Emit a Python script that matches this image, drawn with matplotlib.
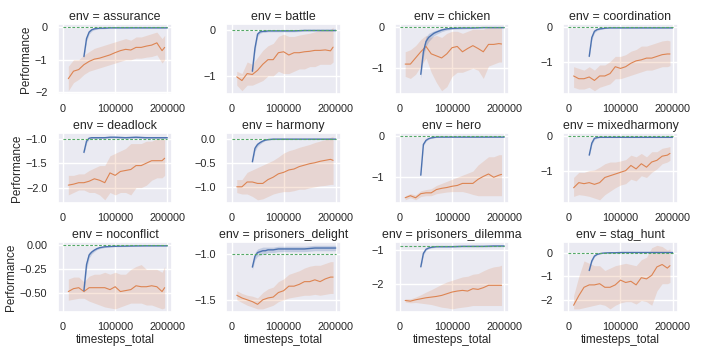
import matplotlib
matplotlib.use("Agg")
import matplotlib.pyplot as plt
import seaborn as sns

sns.set_theme(style="darkgrid")
plt.rcParams["font.family"] = ["Liberation Sans", "DejaVu Sans"]

envs = ["assurance", "battle", "chicken", "coordination",
        "deadlock", "harmony", "hero", "mixedharmony",
        "noconflict", "prisoners_delight", "prisoners_dilemma", "stag_hunt"]

# optimum (green dashed reference)
optimum = [0, 0, 0, 0, -1.0, 0, 0, 0, 0, -1.0, -0.88, 0]
opt_x = [0, 200000]

# blue: fast learner
blue_x = [40000, 45000, 50000, 55000, 60000, 65000, 70000, 80000, 90000,
          100000, 120000, 140000, 160000, 180000, 200000]
blue_mean = [
    [-0.9, -0.35, -0.15, -0.08, -0.05, -0.04, -0.03, -0.03, -0.02, -0.02, -0.02, -0.02, -0.02, -0.02, -0.02],
    [-0.9, -0.4, -0.1, -0.05, -0.04, -0.04, -0.03, -0.03, -0.03, -0.03, -0.03, -0.02, -0.02, -0.02, -0.02],
    [-1.15, -0.6, -0.35, -0.25, -0.2, -0.15, -0.12, -0.07, -0.04, -0.03, -0.02, -0.02, -0.01, -0.01, -0.01],
    [-0.85, -0.3, -0.12, -0.07, -0.05, -0.04, -0.03, -0.02, -0.02, -0.02, -0.02, -0.02, -0.02, -0.02, -0.02],
    [-1.28, -1.05, -0.99, -0.98, -0.98, -0.98, -0.98, -0.98, -0.97, -0.97, -0.98, -0.97, -0.98, -0.98, -0.98],
    [-0.48, -0.2, -0.12, -0.08, -0.05, -0.03, -0.02, -0.01, -0.01, -0.01, -0.01, -0.01, -0.01, -0.01, -0.01],
    [-0.95, -0.2, -0.1, -0.06, -0.04, -0.03, -0.02, -0.02, -0.02, -0.02, -0.02, -0.02, -0.02, -0.02, -0.02],
    [-0.55, -0.2, -0.06, -0.04, -0.03, -0.03, -0.03, -0.03, -0.03, -0.03, -0.03, -0.03, -0.03, -0.03, -0.03],
    [-0.47, -0.2, -0.1, -0.07, -0.05, -0.035, -0.025, -0.015, -0.012, -0.01, -0.008, -0.006, -0.005, -0.005, -0.005],
    [-1.14, -1.02, -0.98, -0.97, -0.96, -0.96, -0.95, -0.95, -0.94, -0.94, -0.94, -0.94, -0.93, -0.93, -0.93],
    [-1.5, -1.1, -0.98, -0.94, -0.92, -0.91, -0.9, -0.9, -0.9, -0.9, -0.89, -0.89, -0.89, -0.88, -0.88],
    [-0.75, -0.35, -0.15, -0.08, -0.05, -0.03, -0.02, -0.01, -0.01, 0.0, 0.0, 0.0, 0.0, 0.0, 0.0],
]
blue_sd = [
    [0.05, 0.08, 0.06, 0.04, 0.03, 0.02, 0.02, 0.015, 0.01, 0.01, 0.01, 0.01, 0.01, 0.01, 0.01],
    [0.05, 0.08, 0.05, 0.03, 0.02, 0.02, 0.02, 0.02, 0.02, 0.02, 0.02, 0.02, 0.02, 0.02, 0.02],
    [0.1, 0.12, 0.12, 0.1, 0.08, 0.06, 0.05, 0.04, 0.03, 0.02, 0.02, 0.01, 0.01, 0.01, 0.01],
    [0.04, 0.06, 0.04, 0.03, 0.02, 0.02, 0.01, 0.01, 0.01, 0.01, 0.01, 0.01, 0.01, 0.01, 0.01],
    [0.03, 0.04, 0.02, 0.02, 0.02, 0.02, 0.02, 0.02, 0.02, 0.02, 0.02, 0.02, 0.02, 0.02, 0.02],
    [0.04, 0.06, 0.04, 0.03, 0.02, 0.01, 0.01, 0.01, 0.01, 0.01, 0.01, 0.01, 0.01, 0.01, 0.01],
    [0.02, 0.03, 0.02, 0.01, 0.01, 0.01, 0.01, 0.01, 0.01, 0.01, 0.01, 0.01, 0.01, 0.01, 0.01],
    [0.03, 0.05, 0.03, 0.02, 0.01, 0.01, 0.01, 0.01, 0.01, 0.01, 0.01, 0.01, 0.01, 0.01, 0.01],
    [0.03, 0.05, 0.03, 0.02, 0.015, 0.01, 0.01, 0.008, 0.006, 0.005, 0.005, 0.005, 0.005, 0.005, 0.005],
    [0.03, 0.04, 0.04, 0.04, 0.04, 0.04, 0.03, 0.03, 0.03, 0.03, 0.03, 0.03, 0.03, 0.03, 0.03],
    [0.04, 0.05, 0.03, 0.02, 0.02, 0.02, 0.02, 0.02, 0.02, 0.02, 0.02, 0.02, 0.02, 0.02, 0.02],
    [0.04, 0.05, 0.03, 0.02, 0.01, 0.01, 0.01, 0.01, 0.01, 0.01, 0.01, 0.01, 0.01, 0.01, 0.01],
]

# orange: slow learner
orange_x = [10000, 20000, 30000, 40000, 50000, 60000, 70000, 80000, 90000, 100000,
            110000, 120000, 130000, 140000, 150000, 160000, 170000, 180000, 190000, 195000]
orange_mean = [
    [-1.58, -1.35, -1.3, -1.15, -1.05, -0.98, -0.95, -0.9, -0.85, -0.78, -0.72, -0.68, -0.7, -0.62, -0.62, -0.58, -0.55, -0.48, -0.72, -0.62],
    [-1.02, -1.1, -0.95, -0.97, -0.88, -0.75, -0.65, -0.65, -0.5, -0.48, -0.55, -0.5, -0.5, -0.48, -0.47, -0.45, -0.45, -0.44, -0.46, -0.38],
    [-0.9, -0.9, -0.75, -0.6, -0.47, -0.65, -0.7, -0.75, -0.65, -0.5, -0.47, -0.6, -0.52, -0.45, -0.52, -0.6, -0.42, -0.42, -0.4, -0.41],
    [-1.42, -1.5, -1.5, -1.45, -1.55, -1.42, -1.42, -1.35, -1.15, -1.2, -1.15, -1.05, -0.98, -0.95, -0.9, -0.9, -0.85, -0.8, -0.78, -0.78],
    [-1.95, -1.93, -1.9, -1.9, -1.87, -1.82, -1.85, -1.9, -1.7, -1.75, -1.67, -1.65, -1.63, -1.55, -1.55, -1.5, -1.45, -1.45, -1.45, -1.4],
    [-1.0, -1.0, -0.9, -0.9, -0.93, -0.93, -0.85, -0.8, -0.73, -0.7, -0.65, -0.63, -0.58, -0.55, -0.52, -0.5, -0.47, -0.45, -0.43, -0.45],
    [-1.5, -1.45, -1.5, -1.4, -1.38, -1.38, -1.3, -1.27, -1.25, -1.22, -1.2, -1.15, -1.15, -1.15, -1.05, -0.98, -0.92, -1.0, -0.95, -0.93],
    [-1.5, -1.35, -1.38, -1.35, -1.4, -1.35, -1.2, -1.15, -1.1, -1.05, -1.0, -0.85, -0.95, -0.8, -0.9, -0.75, -0.7, -0.58, -0.55, -0.5],
    [-0.48, -0.45, -0.44, -0.48, -0.44, -0.44, -0.44, -0.44, -0.46, -0.43, -0.48, -0.47, -0.46, -0.42, -0.43, -0.43, -0.42, -0.43, -0.48, -0.44],
    [-1.45, -1.48, -1.5, -1.52, -1.55, -1.5, -1.48, -1.47, -1.42, -1.4, -1.35, -1.35, -1.33, -1.3, -1.3, -1.28, -1.3, -1.27, -1.25, -1.25],
    [-2.5, -2.52, -2.48, -2.45, -2.42, -2.4, -2.38, -2.35, -2.3, -2.25, -2.22, -2.2, -2.22, -2.15, -2.17, -2.12, -2.05, -2.05, -2.05, -2.05],
    [-2.2, -1.8, -1.45, -1.35, -1.35, -1.3, -1.45, -1.45, -1.35, -1.15, -1.25, -1.2, -1.35, -1.05, -1.1, -0.95, -0.6, -0.5, -0.65, -0.55],
]
orange_lo = [
    [-1.95, -1.7, -1.6, -1.45, -1.35, -1.3, -1.25, -1.2, -1.15, -1.1, -1.05, -1.0, -1.0, -0.95, -0.95, -0.92, -0.9, -0.85, -1.1, -1.0],
    [-1.2, -1.32, -1.2, -1.2, -1.15, -1.1, -1.0, -1.0, -0.9, -0.95, -0.95, -0.9, -0.85, -0.85, -0.8, -0.8, -0.75, -0.75, -0.75, -0.7],
    [-1.2, -1.25, -1.15, -0.95, -0.75, -1.1, -1.35, -1.55, -1.45, -1.2, -1.1, -1.1, -1.05, -1.0, -1.05, -1.25, -0.95, -0.9, -0.85, -0.85],
    [-1.75, -1.8, -1.8, -1.75, -1.85, -1.75, -1.7, -1.65, -1.5, -1.5, -1.45, -1.4, -1.35, -1.3, -1.25, -1.25, -1.2, -1.15, -1.15, -1.12],
    [-2.15, -2.1, -2.05, -2.05, -2.1, -2.1, -2.15, -2.25, -2.1, -2.15, -2.1, -2.1, -2.15, -2.0, -2.0, -1.95, -1.85, -1.8, -1.8, -1.75],
    [-1.12, -1.15, -1.15, -1.2, -1.27, -1.25, -1.2, -1.15, -1.12, -1.1, -1.1, -1.08, -1.05, -1.05, -1.02, -1.0, -0.98, -0.97, -0.95, -0.95],
    [-1.55, -1.5, -1.55, -1.47, -1.45, -1.45, -1.4, -1.38, -1.36, -1.35, -1.35, -1.35, -1.38, -1.42, -1.45, -1.45, -1.45, -1.45, -1.45, -1.45],
    [-1.75, -1.7, -1.72, -1.75, -1.8, -1.85, -1.7, -1.6, -1.5, -1.42, -1.38, -1.25, -1.3, -1.15, -1.2, -1.05, -0.95, -0.8, -0.75, -0.7],
    [-0.57, -0.56, -0.55, -0.55, -0.58, -0.6, -0.62, -0.64, -0.65, -0.66, -0.64, -0.62, -0.6, -0.6, -0.6, -0.62, -0.62, -0.64, -0.66, -0.65],
    [-1.5, -1.53, -1.56, -1.58, -1.6, -1.6, -1.58, -1.56, -1.52, -1.5, -1.48, -1.47, -1.46, -1.45, -1.45, -1.44, -1.45, -1.44, -1.43, -1.43],
    [-2.55, -2.57, -2.56, -2.58, -2.6, -2.62, -2.66, -2.7, -2.72, -2.75, -2.72, -2.7, -2.68, -2.65, -2.65, -2.65, -2.65, -2.65, -2.65, -2.65],
    [-2.35, -2.35, -2.3, -2.25, -2.2, -2.15, -2.2, -2.35, -2.2, -2.1, -2.05, -2.05, -2.15, -2.0, -2.05, -2.2, -1.6, -1.3, -1.3, -1.25],
]
orange_hi = [
    [-1.2, -1.0, -1.0, -0.85, -0.75, -0.65, -0.6, -0.55, -0.5, -0.45, -0.4, -0.35, -0.4, -0.3, -0.3, -0.25, -0.2, -0.15, -0.35, -0.25],
    [-0.9, -0.95, -0.7, -0.75, -0.6, -0.45, -0.35, -0.3, -0.15, -0.1, -0.15, -0.15, -0.12, -0.1, -0.08, -0.05, -0.02, 0.0, 0.0, 0.05],
    [-0.6, -0.55, -0.45, -0.3, -0.2, -0.25, -0.2, -0.25, -0.15, -0.1, -0.1, -0.15, -0.1, -0.05, -0.05, -0.05, 0.0, 0.0, 0.0, 0.0],
    [-1.15, -1.2, -1.25, -1.15, -1.25, -1.1, -1.1, -1.0, -0.85, -0.85, -0.8, -0.7, -0.65, -0.55, -0.55, -0.5, -0.45, -0.4, -0.38, -0.4],
    [-1.75, -1.75, -1.72, -1.72, -1.65, -1.6, -1.55, -1.55, -1.35, -1.3, -1.25, -1.2, -1.1, -1.1, -1.1, -1.05, -1.05, -1.0, -1.0, -1.0],
    [-0.85, -0.85, -0.7, -0.65, -0.6, -0.55, -0.5, -0.45, -0.38, -0.3, -0.25, -0.22, -0.18, -0.15, -0.12, -0.08, -0.05, -0.02, 0.03, 0.05],
    [-1.45, -1.4, -1.43, -1.33, -1.3, -1.28, -1.2, -1.15, -1.1, -1.05, -1.0, -0.95, -0.9, -0.85, -0.7, -0.6, -0.5, -0.5, -0.45, -0.45],
    [-1.2, -1.05, -1.05, -1.0, -0.98, -0.9, -0.8, -0.75, -0.75, -0.72, -0.68, -0.55, -0.6, -0.5, -0.6, -0.45, -0.45, -0.35, -0.32, -0.3],
    [-0.35, -0.33, -0.33, -0.38, -0.32, -0.3, -0.3, -0.28, -0.3, -0.28, -0.3, -0.3, -0.25, -0.22, -0.2, -0.25, -0.25, -0.25, -0.28, -0.22],
    [-1.4, -1.43, -1.45, -1.46, -1.48, -1.42, -1.38, -1.36, -1.3, -1.27, -1.22, -1.2, -1.18, -1.15, -1.13, -1.12, -1.12, -1.1, -1.08, -1.08],
    [-2.45, -2.45, -2.4, -2.33, -2.25, -2.18, -2.1, -2.02, -1.95, -1.9, -1.85, -1.8, -1.78, -1.72, -1.7, -1.62, -1.55, -1.5, -1.48, -1.45],
    [-1.8, -1.0, -0.35, -0.45, -0.55, -0.55, -0.75, -0.65, -0.55, -0.5, -0.45, -0.5, -0.55, -0.3, -0.2, 0.2, 0.3, 0.25, 0.1, 0.15],
]

pal = sns.color_palette("deep")
c_blue, c_orange, c_green = pal[0], pal[1], pal[2]

fig, axes = plt.subplots(3, 4, figsize=(7.06, 3.53), dpi=100)
plt.subplots_adjust(left=0.082, right=0.960, bottom=0.116, top=0.932,
                    wspace=0.47, hspace=0.56)

for i, ax in enumerate(axes.flat):
    # orange curve + band
    ax.fill_between(orange_x, orange_lo[i], orange_hi[i], color=c_orange,
                    alpha=0.2, linewidth=0)
    ax.plot(orange_x, orange_mean[i], color=c_orange, lw=0.8)
    # blue curve + band
    lo = [m - s for m, s in zip(blue_mean[i], blue_sd[i])]
    hi = [m + s for m, s in zip(blue_mean[i], blue_sd[i])]
    ax.fill_between(blue_x, lo, hi, color=c_blue, alpha=0.25, linewidth=0)
    ax.plot(blue_x, blue_mean[i], color=c_blue, lw=1.0)
    # optimum
    ax.plot(opt_x, [optimum[i], optimum[i]], color=c_green, lw=0.8,
            ls=(0, (2.5, 1.5)))

    ax.set_title("env = " + envs[i], fontsize=8.9, pad=3)
    ax.set_xticks([0, 100000, 200000])
    ax.tick_params(labelsize=7.8, pad=1.5)
    if i % 4 == 0:
        ax.set_ylabel("Performance", fontsize=8.5, labelpad=2)
    if i >= 8:
        ax.set_xlabel("timesteps_total", fontsize=8.5, labelpad=1)

fig.savefig("out.png", dpi=100)
